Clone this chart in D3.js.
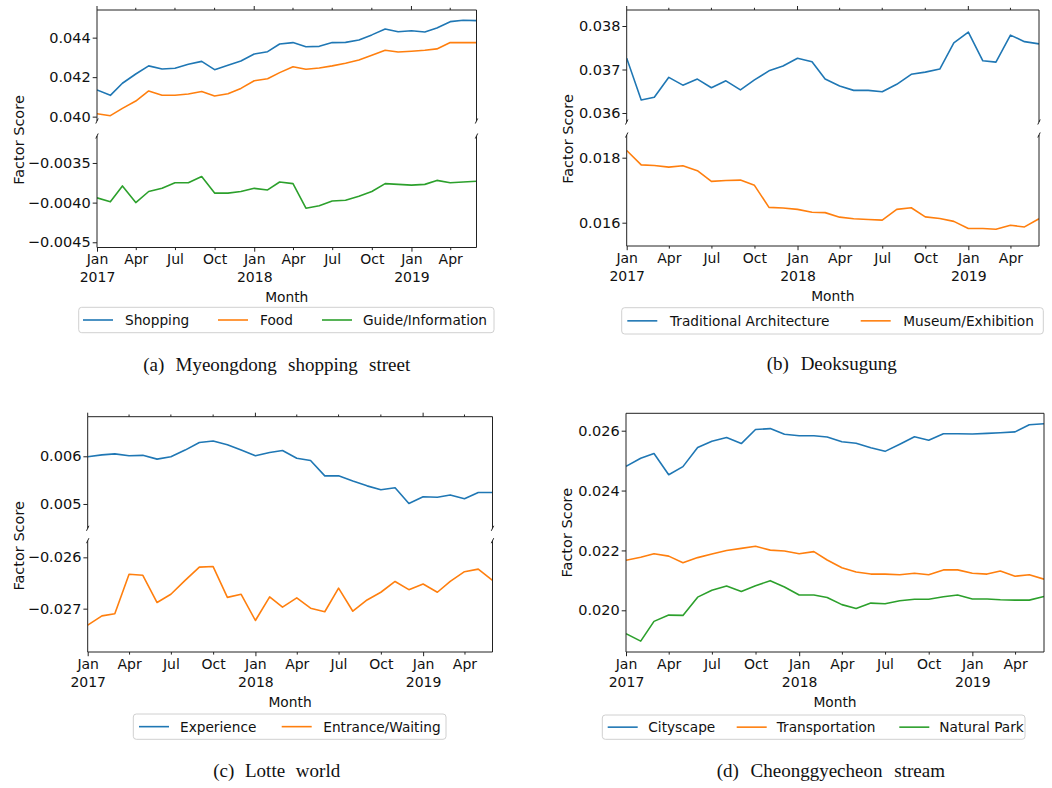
<!DOCTYPE html>
<html><head><meta charset="utf-8">
<script src="https://cdn.jsdelivr.net/npm/d3@7"></script>
<style>
body{margin:0;background:#fff}
svg{display:block}
text{font-family:"DejaVu Sans",sans-serif;fill:#111}
.cap{font-family:"Liberation Serif","Times New Roman",serif;white-space:pre}
</style>
</head><body>
<svg id="chart" width="1052" height="788"></svg>
<script>
// ---------- DATA ----------
const months = ["2017-01","2017-02","2017-03","2017-04","2017-05","2017-06","2017-07","2017-08","2017-09","2017-10","2017-11","2017-12",
  "2018-01","2018-02","2018-03","2018-04","2018-05","2018-06","2018-07","2018-08","2018-09","2018-10","2018-11","2018-12",
  "2019-01","2019-02","2019-03","2019-04","2019-05","2019-06"];
const xTickMonths = ["2017-01","2017-04","2017-07","2017-10","2018-01","2018-04","2018-07","2018-10","2019-01","2019-04"];
const xTickLabels = [["Jan","2017"],["Apr"],["Jul"],["Oct"],["Jan","2018"],["Apr"],["Jul"],["Oct"],["Jan","2019"],["Apr"]];

// (a) Myeongdong shopping street
const shopping = [0.04135,0.04108,0.04169,0.04216,0.04257,0.04241,0.04245,0.04265,0.0428,0.04238,0.0426,0.04282,0.04317,0.04329,0.04368,0.04375,0.04354,0.04356,0.04375,0.04376,0.04388,0.04414,0.04444,0.0443,0.04435,0.04429,0.04449,0.04481,0.04488,0.04486];
const food = [0.04015,0.04005,0.04042,0.04079,0.0413,0.04108,0.04108,0.04115,0.04127,0.04105,0.04116,0.04143,0.04182,0.04192,0.04223,0.04253,0.0424,0.04246,0.04257,0.0427,0.04287,0.04311,0.04336,0.04327,0.04331,0.04336,0.04343,0.04375,0.04375,0.04375];
const guideInfo = [-0.00394,-0.00399,-0.00379,-0.0040,-0.00386,-0.00382,-0.00375,-0.00375,-0.00367,-0.00388,-0.00388,-0.00386,-0.00382,-0.00384,-0.00374,-0.00376,-0.00407,-0.00404,-0.00398,-0.00397,-0.00392,-0.00386,-0.00376,-0.00377,-0.00378,-0.00377,-0.00372,-0.00375,-0.00374,-0.00373];
const ticksAUpper = [0.040,0.042,0.044];
const ticksALower = [-0.0045,-0.0040,-0.0035];

// (b) Deoksugung
const tradArch = [0.03726,0.0363,0.03636,0.03682,0.03664,0.03678,0.03658,0.03674,0.03653,0.03676,0.03697,0.03708,0.03726,0.03718,0.03678,0.03662,0.03652,0.03652,0.03649,0.03666,0.03689,0.03694,0.03701,0.03761,0.03786,0.0372,0.03717,0.03779,0.03764,0.03759];
const museum = [0.01822,0.01778,0.01776,0.01771,0.01775,0.0176,0.01727,0.0173,0.01731,0.01715,0.01647,0.01645,0.01641,0.01632,0.01631,0.01617,0.01612,0.0161,0.01608,0.01641,0.01646,0.01618,0.01613,0.01604,0.01582,0.01582,0.0158,0.01592,0.01587,0.01612];
const ticksBUpper = [0.036,0.037,0.038];
const ticksBLower = [0.016,0.018];

// (c) Lotte world
const experience = [0.00599,0.00603,0.00605,0.00601,0.00602,0.00594,0.00599,0.00613,0.00629,0.00632,0.00624,0.00613,0.00601,0.00608,0.00612,0.00596,0.00591,0.00559,0.00559,0.00548,0.00538,0.0053,0.00534,0.00501,0.00515,0.00514,0.00519,0.00511,0.00524,0.00524];
const entrance = [-0.02732,-0.02714,-0.0271,-0.02633,-0.02635,-0.02688,-0.02672,-0.02645,-0.02619,-0.02618,-0.02678,-0.02672,-0.02723,-0.02677,-0.02697,-0.02679,-0.02699,-0.02706,-0.0266,-0.02705,-0.02683,-0.02668,-0.02647,-0.02663,-0.02652,-0.02668,-0.02647,-0.02628,-0.02623,-0.02645];
const ticksCUpper = [0.005,0.006];
const ticksCLower = [-0.027,-0.026];

// (d) Cheonggyecheon stream
const cityscape = [0.02481,0.02508,0.02524,0.02453,0.0248,0.02544,0.02565,0.02577,0.02557,0.02604,0.02607,0.02588,0.02583,0.02583,0.02579,0.02563,0.02558,0.02543,0.02531,0.02555,0.0258,0.02568,0.0259,0.0259,0.02589,0.02591,0.02593,0.02596,0.0262,0.02623];
const transportation = [0.02167,0.02177,0.02189,0.02181,0.02159,0.02176,0.02188,0.022,0.02207,0.02214,0.02201,0.02198,0.02189,0.02196,0.02168,0.02142,0.02128,0.02121,0.02121,0.02119,0.02124,0.02119,0.02135,0.02135,0.02124,0.02121,0.02131,0.02114,0.02119,0.02104];
const naturalPark = [0.01922,0.01897,0.01963,0.01984,0.01983,0.02044,0.02067,0.02081,0.02063,0.02082,0.02099,0.02078,0.02051,0.02051,0.02043,0.02019,0.02006,0.02024,0.02022,0.02032,0.02037,0.02037,0.02045,0.02051,0.02038,0.02038,0.02035,0.02034,0.02034,0.02046];
const ticksD = [0.020,0.022,0.024,0.026];

// ---------- LAYOUT / STYLE ----------
const BLUE = "#1f77b4", ORANGE = "#ff7f0e", GREEN = "#2ca02c";
const FS_Y = 14.5, FS_X = 14, FS_LAB = 13.8, FS_LEG = 13.7;
const parse = d3.timeParse("%Y-%m");
const dates = months.map(parse);
const f3 = d3.format(".3f"), f4 = d3.format(".4f");

const panels = [
  { x0: 97, x1: 476.5, ylab: [18.5, 140],
    segs: [
      { y0: 10, y1: 121, domain: [0.03978, 0.0454], ticks: ticksAUpper, fmt: f3,
        series: [{ v: shopping, c: BLUE }, { v: food, c: ORANGE }] },
      { y0: 136, y1: 247.5, domain: [-0.004566, -0.00316], ticks: ticksALower, fmt: f4,
        series: [{ v: guideInfo, c: GREEN }] } ],
    legend: { box: [78.7, 307.3, 494, 332.7],
      items: [{ name: "Shopping", c: BLUE, lx: 83, tx: 125 }, { name: "Food", c: ORANGE, lx: 218, tx: 260 }, { name: "Guide/Information", c: GREEN, lx: 322, tx: 363 }] },
    caption: { text: "(a)  Myeongdong  shopping  street", cx: 276.7, y: 370.7, w: 267 } },
  { x0: 626.7, x1: 1039, ylab: [567.5, 139],
    segs: [
      { y0: 10, y1: 122, domain: [0.035793, 0.038368], ticks: ticksBUpper, fmt: f3,
        series: [{ v: tradArch, c: BLUE }] },
      { y0: 135, y1: 246, domain: [0.015283, 0.018698], ticks: ticksBLower, fmt: f3,
        series: [{ v: museum, c: ORANGE }] } ],
    legend: { box: [621.7, 307.7, 1043.3, 334],
      items: [{ name: "Traditional Architecture", c: BLUE, lx: 627.3, tx: 670 }, { name: "Museum/Exhibition", c: ORANGE, lx: 860.7, tx: 903.3 }] },
    caption: { text: "(b)  Deoksugung", cx: 831.7, y: 370, w: 130 } },
  { x0: 87.7, x1: 492.5, ylab: [18.5, 545.8],
    segs: [
      { y0: 416.7, y1: 528.3, domain: [0.00449, 0.00683], ticks: ticksCUpper, fmt: f3,
        series: [{ v: experience, c: BLUE }] },
      { y0: 540.7, y1: 652, domain: [-0.027844, -0.025676], ticks: ticksCLower, fmt: f3,
        series: [{ v: entrance, c: ORANGE }] } ],
    legend: { box: [133.3, 714, 446, 739.3],
      items: [{ name: "Experience", c: BLUE, lx: 139, tx: 180 }, { name: "Entrance/Waiting", c: ORANGE, lx: 281.7, tx: 323.3 }] },
    caption: { text: "(c)  Lotte  world", cx: 276.7, y: 776.7, w: 127 } },
  { x0: 626, x1: 1044, ylab: [567, 532.7],
    segs: [
      { y0: 413.3, y1: 652, domain: [0.018607, 0.026581], ticks: ticksD, fmt: f3,
        series: [{ v: cityscape, c: BLUE }, { v: transportation, c: ORANGE }, { v: naturalPark, c: GREEN }] } ],
    legend: { box: [602.3, 715, 1025, 739.3],
      items: [{ name: "Cityscape", c: BLUE, lx: 607.7, tx: 648.3 }, { name: "Transportation", c: ORANGE, lx: 736.7, tx: 776.7 }, { name: "Natural Park", c: GREEN, lx: 899.3, tx: 939.3 }] },
    caption: { text: "(d)  Cheonggyecheon  stream", cx: 830.8, y: 776.7, w: 228.3 } }
];

const svg = d3.select("#chart");
const SPINE = "#222";

panels.forEach((p, pi) => {
  const g = svg.append("g");
  const x = d3.scaleTime().domain([dates[0], dates[dates.length - 1]]).range([p.x0, p.x1]);
  const tickDates = xTickMonths.map(parse);
  const broken = p.segs.length > 1;

  p.segs.forEach((s, si) => {
    const y = d3.scaleLinear().domain(s.domain).range([s.y1, s.y0]);
    const clipId = `clip-${pi}-${si}`;
    g.append("clipPath").attr("id", clipId).append("rect")
      .attr("x", p.x0).attr("y", s.y0).attr("width", p.x1 - p.x0).attr("height", s.y1 - s.y0);
    const line = d3.line().x((d, i) => x(dates[i])).y(d => y(d));
    s.series.forEach(ser => {
      g.append("path").datum(ser.v).attr("clip-path", `url(#${clipId})`)
        .attr("d", line).attr("fill", "none").attr("stroke", ser.c)
        .attr("stroke-width", 1.6).attr("stroke-linejoin", "round");
    });
    // y axis
    const ya = g.append("g").attr("transform", `translate(${p.x0},0)`)
      .call(d3.axisLeft(y).tickValues(s.ticks).tickFormat(s.fmt).tickSize(4.3).tickPadding(2));
    ya.select(".domain").remove();
    ya.selectAll("line").attr("stroke", SPINE);
    ya.selectAll("text").attr("font-size", FS_Y).attr("font-family", "DejaVu Sans").attr("fill", "#111");

    // spines
    const sp = (x1, y1, x2, y2) => g.append("line").attr("x1", x1).attr("y1", y1).attr("x2", x2).attr("y2", y2)
      .attr("stroke", SPINE).attr("stroke-width", 1);
    sp(p.x0, s.y0, p.x0, s.y1);
    sp(p.x1, s.y0, p.x1, s.y1);
    if (si === 0) sp(p.x0, s.y0, p.x1, s.y0);
    if (si === p.segs.length - 1) sp(p.x0, s.y1, p.x1, s.y1);

    // break marks
    if (broken) {
      const yy = si === 0 ? s.y1 : s.y0;
      [p.x0, p.x1].forEach(xx => {
        g.append("line").attr("x1", xx - 1.2).attr("y1", yy + 2.5).attr("x2", xx + 1.2).attr("y2", yy - 2.5)
          .attr("stroke", SPINE).attr("stroke-width", 1);
      });
      // top ticks on upper axes
      if (si === 0) {
        tickDates.forEach((d, i) => {
          const major = xTickLabels[i].length > 1;
          g.append("line").attr("x1", x(d)).attr("x2", x(d)).attr("y1", s.y0).attr("y2", s.y0 - (major ? 4 : 2.2))
            .attr("stroke", SPINE);
        });
      }
    }

    // x axis at bottom of last seg
    if (si === p.segs.length - 1) {
      const xa = g.append("g").attr("transform", `translate(0,${s.y1})`)
        .call(d3.axisBottom(x).tickValues(tickDates).tickFormat("").tickSize(4).tickPadding(2.5));
      xa.select(".domain").remove();
      xa.selectAll("line").attr("stroke", SPINE)
        .attr("y2", (d, i) => xTickLabels[i].length > 1 ? 4.2 : 2.6);
      xa.selectAll(".tick").each(function (d, i) {
        const t = d3.select(this).append("text").attr("fill", "#111").attr("font-size", FS_X)
          .attr("font-family", "DejaVu Sans").attr("text-anchor", "middle").attr("y", 6.8);
        xTickLabels[i].forEach((lab, k) => {
          t.append("tspan").attr("x", 0).attr("dy", k === 0 ? "0.71em" : "1.28em").text(lab);
        });
      });
      g.append("text").attr("x", (p.x0 + p.x1) / 2).attr("y", s.y1 + 54.5)
        .attr("text-anchor", "middle").attr("font-size", FS_LAB).text("Month");
    }
  });

  // y label
  g.append("text").attr("transform", `translate(${p.ylab[0]},${p.ylab[1]}) rotate(-90)`)
    .attr("text-anchor", "middle").attr("dy", "0.35em").attr("font-size", FS_Y).text("Factor Score");

  // legend
  const L = p.legend;
  const lg = g.append("g");
  lg.append("rect").attr("x", L.box[0]).attr("y", L.box[1]).attr("width", L.box[2] - L.box[0])
    .attr("height", L.box[3] - L.box[1]).attr("rx", 3).attr("fill", "#fff").attr("stroke", "#d0d0d0");
  const cy = (L.box[1] + L.box[3]) / 2;
  L.items.forEach(it => {
    lg.append("line").attr("x1", it.lx).attr("x2", it.lx + 30).attr("y1", cy).attr("y2", cy)
      .attr("stroke", it.c).attr("stroke-width", 1.6);
    lg.append("text").attr("x", it.tx).attr("y", cy).attr("dy", "0.36em").attr("font-size", FS_LEG).text(it.name);
  });

  // caption
  const C = p.caption;
  const ct = g.append("text").attr("class", "cap").attr("x", C.cx).attr("y", C.y)
    .attr("text-anchor", "middle").attr("font-size", 19).text(C.text);
  const nat = ct.node().getComputedTextLength();
  const nSpaces = (C.text.match(/ /g) || []).length;
  if (nSpaces > 0) ct.style("word-spacing", ((C.w - nat) / nSpaces) + "px");
});
</script>
</body></html>
